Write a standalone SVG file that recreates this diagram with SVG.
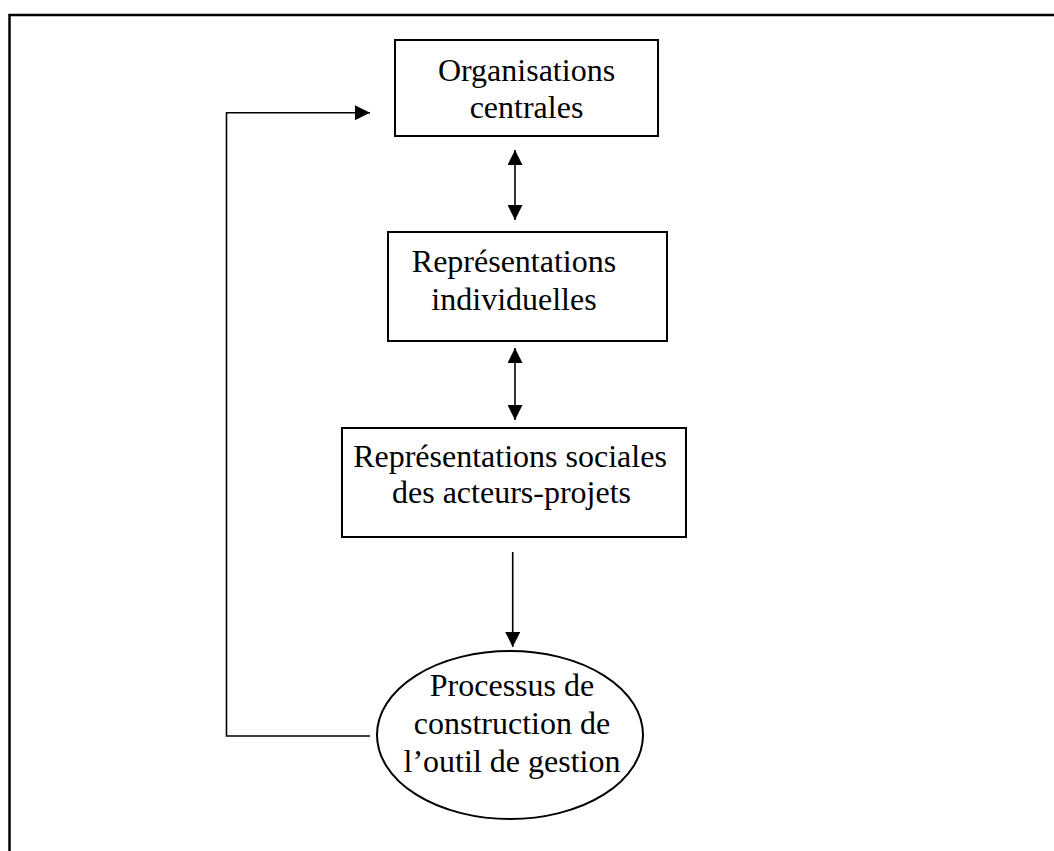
<svg xmlns="http://www.w3.org/2000/svg" width="1054" height="851" viewBox="0 0 1054 851">
<style>
.frame{fill:none;stroke:#000;stroke-width:2.5}
.box{fill:#fff;stroke:#000;stroke-width:2}
.lbl{font-family:"Liberation Serif","Times New Roman",serif;font-size:32px;fill:#000;text-anchor:middle}
.con{fill:none;stroke:#000;stroke-width:1.6}
</style>
<defs>
<marker id="ah" viewBox="0 0 10 10" refX="10" refY="5" markerWidth="15" markerHeight="15" markerUnits="userSpaceOnUse" orient="auto-start-reverse">
<path d="M0,0 L10,5 L0,10 Z" fill="#000"/>
</marker>
</defs>
<rect width="1054" height="851" fill="#fff"/>
<rect class="frame" x="9.5" y="15" width="1100" height="900"/>
<g id="n1">
<rect class="box" x="395" y="40" width="263" height="96"/>
<text class="lbl" x="526.5" y="81">Organisations</text>
<text class="lbl" x="526.5" y="118">centrales</text>
</g>
<g id="n2">
<rect class="box" x="388" y="232" width="279" height="109"/>
<text class="lbl" x="514" y="272">Représentations</text>
<text class="lbl" x="514" y="310">individuelles</text>
</g>
<g id="n3">
<rect class="box" x="342" y="428" width="344" height="109"/>
<text class="lbl" x="510" y="467">Représentations sociales</text>
<text class="lbl" x="511.5" y="503">des acteurs-projets</text>
</g>
<g id="n4">
<ellipse class="box" cx="510" cy="735" rx="133" ry="84"/>
<text class="lbl" x="512" y="696">Processus de</text>
<text class="lbl" x="512" y="734">construction de</text>
<text class="lbl" x="512" y="772">l’outil de gestion</text>
</g>
<g id="connectors">
<line class="con" x1="515" y1="150" x2="515" y2="220" marker-start="url(#ah)" marker-end="url(#ah)"/>
<line class="con" x1="515" y1="348" x2="515" y2="420" marker-start="url(#ah)" marker-end="url(#ah)"/>
<line class="con" x1="512.7" y1="552" x2="512.7" y2="647" marker-end="url(#ah)"/>
<path class="con" d="M370,736 H226.5 V112.7 H370" marker-end="url(#ah)"/>
</g>
</svg>
